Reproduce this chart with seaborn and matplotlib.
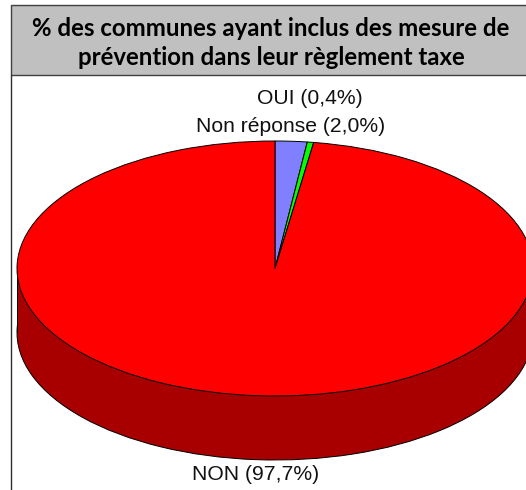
import matplotlib
matplotlib.use('Agg')
import matplotlib.pyplot as plt
from matplotlib.patches import Rectangle
import seaborn as sns

sns.set_theme(style='white')

title = "% des communes ayant inclus des mesure de\nprévention dans leur règlement taxe"
categories = ["Non réponse", "OUI", "NON"]
values = [2.0, 0.4, 97.7]
labels = ["Non réponse (2,0%)", "OUI (0,4%)", "NON (97,7%)"]
top_colors = sns.color_palette(["#8080ff", "#00ff00", "#ff0000"])
side_color = "#a80000"

W, H = 526, 490
# ellipse in pixels
cx, cy, rx, ry = 275, 268.5, 258, 127.5
depth = 64 / ry

fig = plt.figure(figsize=(W / 100, H / 100), dpi=100, facecolor='white')
ax = fig.add_axes([0, 0, 1, 1])

# side of the disc: same pie shifted down, then the band between both
ax.pie(values, colors=[side_color] * 3, startangle=90, counterclock=False, center=(0, -depth),
       wedgeprops={'edgecolor': 'black', 'linewidth': 0.7})
ax.add_patch(Rectangle((-1, -depth), 2, depth, facecolor=side_color, edgecolor='none', zorder=1.5))
ax.plot([-1, -1], [-depth, 0], color='black', lw=0.7, zorder=1.6)
ax.pie(values, colors=top_colors, startangle=90, counterclock=False,
       wedgeprops={'edgecolor': 'black', 'linewidth': 0.7, 'zorder': 2})

ax.set_aspect('auto')
ax.set_xlim((0 - cx) / rx, (W - cx) / rx)
ax.set_ylim((cy - H) / ry, cy / ry)
ax.axis('off')

def to_data(px, py):
    return (px - cx) / rx, (cy - py) / ry

label_font = dict(family='Liberation Sans', fontsize=15.2, color='#111111', ha='center', va='center')
ax.text(*to_data(290.5, 127), labels[0], **label_font)
ax.text(*to_data(310, 98), labels[1], **label_font)
ax.text(*to_data(255.5, 475), labels[2], **label_font)

# title box and frame, in figure pixels
fig.add_artist(Rectangle((11 / W, 1 - 75 / H), (W - 10) / W, 70 / H, transform=fig.transFigure,
                         facecolor='#c0c0c0', edgecolor='#404040', linewidth=1.0))
fig.add_artist(plt.Line2D([11 / W, 11 / W], [0, 1 - 75 / H], transform=fig.transFigure,
                          color='#303030', linewidth=1.0))
fig.text(271 / W, 1 - 43 / H, title, family='Lato', fontweight='bold', fontsize=17.3,
         color='black', ha='center', va='center', linespacing=1.3)

plt.savefig('out.png', dpi=100)
